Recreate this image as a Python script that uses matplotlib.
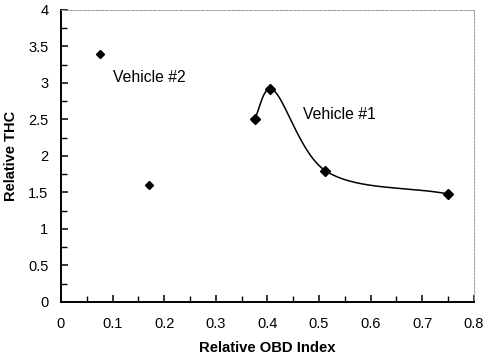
import numpy as np
import matplotlib
matplotlib.use("Agg")
import matplotlib.pyplot as plt
from matplotlib.ticker import MultipleLocator

plt.rcParams['font.family'] = ['Liberation Sans', 'DejaVu Sans']

# Data
v1_x = [0.375, 0.405, 0.512, 0.750]
v1_y = [2.50, 2.92, 1.80, 1.48]
v2_x = [0.075, 0.170]
v2_y = [3.40, 1.60]
x_ticks = [0, 0.1, 0.2, 0.3, 0.4, 0.5, 0.6, 0.7, 0.8]
x_tick_labels = ['0', '0.1', '0.2', '0.3', '0.4', '0.5', '0.6', '0.7', '0.8']
y_ticks = [0, 0.5, 1, 1.5, 2, 2.5, 3, 3.5, 4]
y_tick_labels = ['0', '0.5', '1', '1.5', '2', '2.5', '3', '3.5', '4']


def centripetal_cr(xs, ys, sx, sy, n=80, alpha=0.5):
    """Centripetal Catmull-Rom spline through the points (computed in scaled space)."""
    p = np.column_stack([np.asarray(xs) / sx, np.asarray(ys) / sy]).astype(float)
    p = np.vstack([2 * p[0] - p[1], p, 2 * p[-1] - p[-2]])
    out = []
    for i in range(1, len(p) - 2):
        P0, P1, P2, P3 = p[i - 1], p[i], p[i + 1], p[i + 2]
        t0 = 0.0
        t1 = t0 + np.linalg.norm(P1 - P0) ** alpha
        t2 = t1 + np.linalg.norm(P2 - P1) ** alpha
        t3 = t2 + np.linalg.norm(P3 - P2) ** alpha
        t = np.linspace(t1, t2, n)[:, None]
        A1 = (t1 - t) / (t1 - t0) * P0 + (t - t0) / (t1 - t0) * P1
        A2 = (t2 - t) / (t2 - t1) * P1 + (t - t1) / (t2 - t1) * P2
        A3 = (t3 - t) / (t3 - t2) * P2 + (t - t2) / (t3 - t2) * P3
        B1 = (t2 - t) / (t2 - t0) * A1 + (t - t0) / (t2 - t0) * A2
        B2 = (t3 - t) / (t3 - t1) * A2 + (t - t1) / (t3 - t1) * A3
        C = (t2 - t) / (t2 - t1) * B1 + (t - t1) / (t2 - t1) * B2
        out.append(C)
    out = np.vstack(out)
    return out[:, 0] * sx, out[:, 1] * sy


fig = plt.figure(figsize=(4.86, 3.56), dpi=100)
ax = fig.add_axes([0.1255, 0.1517, 0.8495, 0.8203])

# scale so that the spline is computed in (approx.) pixel-proportional space
cx, cy = centripetal_cr(v1_x, v1_y, 0.8 / 413.0, 4.0 / 292.0)
ax.plot(cx, cy, color='black', lw=1.1)
ax.plot(v1_x, v1_y, linestyle='none', marker='D', color='black', ms=5)
ax.plot(v2_x, v2_y, linestyle='none', marker='D', color='black', ms=4.5)

ax.text(0.101, 3.08, 'Vehicle #2', fontsize=11.3, va='center', ha='left')
ax.text(0.468, 2.57, 'Vehicle #1', fontsize=11.3, va='center', ha='left')

ax.set_xlim(0, 0.8)
ax.set_ylim(0, 4)
ax.set_xticks(x_ticks)
ax.set_xticklabels(x_tick_labels)
ax.set_yticks(y_ticks)
ax.set_yticklabels(y_tick_labels)
ax.xaxis.set_minor_locator(MultipleLocator(0.05))
ax.yaxis.set_minor_locator(MultipleLocator(0.25))
ax.tick_params(axis='both', which='major', direction='in', length=5, width=1.1,
               labelsize=10.5, top=False, right=False)
ax.tick_params(axis='both', which='minor', direction='in', length=4, width=1.0,
               top=False, right=False)
ax.tick_params(axis='x', which='major', pad=11)
ax.tick_params(axis='y', which='major', pad=9)

ax.spines['left'].set_linewidth(1.4)
ax.spines['bottom'].set_linewidth(1.4)
ax.spines['top'].set_color('#9a9a9a')
ax.spines['top'].set_linestyle((0, (3, 1.5)))
ax.spines['top'].set_linewidth(0.7)
ax.spines['right'].set_color('#9a9a9a')
ax.spines['right'].set_linestyle((0, (2, 1.5)))
ax.spines['right'].set_linewidth(0.7)

ax.set_xlabel('Relative OBD Index', fontsize=10.7, fontweight='bold', labelpad=7)
ax.set_ylabel('Relative THC', fontsize=10.5, fontweight='bold', labelpad=7)

fig.savefig('out.png', dpi=100)
